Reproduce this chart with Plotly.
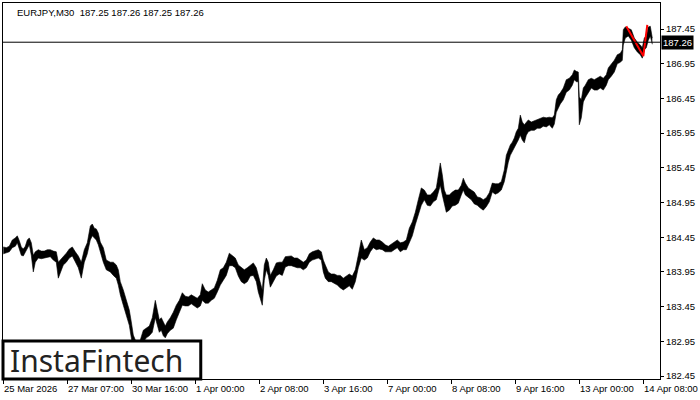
import plotly.graph_objects as go

# bar index (30-minute bars, sampled) with high / low prices
bar_idx = [0,3,6,9,12,14,16,18,20,22,24,26,28,30,32,35,38,41,44,47,50,53,55,57,60,63,66,69,72,75,78,81,84,87,89,91,93,95,97,100,103,107,110,113,115,117,120,123,126,128,130,134,137,140,143,146,149,152,154,156,158,160,162,164,167,170,173,176,179,182,185,188,191,194,197,199,202,205,208,211,214,217,220,223,226,229,232,235,238,241,244,247,250,253,255,257,259,261,263,265,267,270,273,276,279,282,285,288,291,294,297,300,303,306,309,312,315,318,320,322,325,328,331,334,337,340,343,346,349,352,355,358,361,364,367,370,373,376,379,382,385,388,391,394,397,400,403,406,409,412,415,418,421,424,427,430,433,435,437,439,441,443,446,449,452,455,458,460,462,465,468,471,474,477,480,483,486,489,492,495,498,501,503,505,507,509,511,513,515,517,519,521,523,525,528,531,534,537,540,543,546,549,551,553,555,557,560,563,566,569,571,573,575,576,578,580,582,585,588,591,594,597,600,603,605,608,611,614,617,619,620,622,625,628,631,634,637,639,641,643,645,647,649]
high = [184.31,184.30,184.32,184.41,184.44,184.47,184.40,184.31,184.28,184.32,184.41,184.44,184.37,184.19,184.24,184.27,184.25,184.25,184.27,184.27,184.25,184.24,184.09,184.12,184.17,184.22,184.28,184.31,184.24,184.18,184.09,184.27,184.37,184.61,184.64,184.58,184.57,184.51,184.38,184.30,184.12,184.09,184.09,184.05,183.98,183.81,183.69,183.54,183.40,183.23,183.04,182.90,182.97,183.11,183.14,183.17,183.29,183.54,183.40,183.26,183.29,183.23,183.17,183.23,183.29,183.37,183.47,183.54,183.65,183.60,183.59,183.62,183.60,183.57,183.62,183.78,183.69,183.66,183.69,183.72,183.83,183.98,184.01,184.09,184.22,184.19,184.15,184.05,184.01,183.98,184.01,184.05,184.08,184.01,183.90,183.76,183.69,184.05,184.15,184.09,183.90,183.98,184.08,184.09,184.09,184.17,184.18,184.18,184.15,184.15,184.12,184.09,184.12,184.21,184.24,184.25,184.27,184.24,184.12,184.05,183.95,183.92,183.92,183.90,183.90,183.86,183.89,183.92,183.89,183.98,184.19,184.41,184.27,184.30,184.38,184.44,184.41,184.41,184.38,184.34,184.32,184.35,184.38,184.41,184.37,184.38,184.41,184.58,184.67,184.81,184.99,185.16,185.13,185.06,185.06,185.10,185.16,185.35,185.52,185.35,185.13,185.06,185.06,185.10,185.13,185.13,185.20,185.30,185.23,185.16,185.13,185.10,185.03,185.02,184.99,185.02,185.09,185.23,185.22,185.22,185.25,185.42,185.63,185.71,185.78,185.82,185.88,185.97,186.02,186.21,186.11,186.07,186.11,186.14,186.11,186.13,186.15,186.17,186.18,186.17,186.18,186.17,186.21,186.43,186.50,186.53,186.60,186.72,186.74,186.79,186.86,186.84,186.83,186.47,186.43,186.60,186.64,186.72,186.74,186.72,186.74,186.77,186.74,186.79,186.89,186.95,187.00,187.08,187.10,187.15,187.44,187.48,187.46,187.44,187.32,187.26,187.22,187.18,187.32,187.35,187.48,187.49,187.32]
low = [184.21,184.22,184.24,184.30,184.32,184.37,184.27,184.19,184.18,184.24,184.30,184.34,184.19,183.95,184.09,184.15,184.14,184.15,184.15,184.17,184.12,184.09,183.86,183.95,184.05,184.09,184.15,184.18,184.09,184.01,183.86,184.09,184.21,184.41,184.47,184.44,184.41,184.34,184.24,184.09,183.98,183.95,183.90,183.86,183.76,183.62,183.47,183.33,183.18,183.00,182.83,182.71,182.80,182.94,183.00,183.03,183.08,183.29,183.18,183.08,183.11,183.03,183.00,183.06,183.11,183.14,183.26,183.37,183.47,183.46,183.46,183.49,183.46,183.43,183.46,183.54,183.50,183.50,183.54,183.57,183.66,183.76,183.83,183.90,184.04,184.04,184.01,183.89,183.81,183.78,183.81,183.89,183.90,183.81,183.66,183.57,183.47,183.83,183.98,183.90,183.73,183.81,183.89,183.92,183.90,184.02,184.04,184.04,184.02,184.01,184.01,183.98,184.01,184.09,184.12,184.14,184.15,184.12,183.95,183.86,183.81,183.81,183.79,183.76,183.72,183.69,183.72,183.75,183.70,183.81,184.01,184.15,184.12,184.15,184.24,184.30,184.27,184.28,184.27,184.24,184.24,184.24,184.27,184.30,184.24,184.27,184.27,184.38,184.47,184.63,184.77,184.91,184.99,184.91,184.90,184.96,184.99,185.10,185.20,185.06,184.91,184.81,184.84,184.90,184.91,184.94,185.06,185.13,185.06,185.02,184.99,184.93,184.91,184.87,184.84,184.89,184.96,185.10,185.07,185.09,185.13,185.25,185.42,185.53,185.63,185.68,185.74,185.78,185.85,185.92,185.85,185.81,185.92,185.97,185.99,185.99,186.02,186.02,186.05,186.04,186.07,186.02,186.08,186.25,186.31,186.37,186.43,186.54,186.57,186.64,186.72,186.69,186.69,186.07,186.17,186.40,186.46,186.54,186.60,186.57,186.57,186.60,186.57,186.64,186.72,186.77,186.83,186.95,186.97,187.00,187.22,187.32,187.35,187.29,187.18,187.12,187.08,187.03,187.15,187.18,187.29,187.35,187.23]

# pattern lines (red)
pattern_idx = [623, 640, 644]
pattern_price = [187.49, 187.06, 187.51]

current_price = 187.26
header_text = "EURJPY,M30  187.25 187.26 187.25 187.26"

x_tick_idx = [0, 64, 128, 192, 256, 320, 384, 448, 512, 576, 640]
x_tick_labels = ["25 Mar 2026", "27 Mar 07:00", "30 Mar 16:00", "1 Apr 00:00", "2 Apr 08:00",
                 "3 Apr 16:00", "7 Apr 00:00", "8 Apr 08:00", "9 Apr 16:00", "13 Apr 00:00", "14 Apr 08:00"]
y_tick_vals = [182.45, 182.95, 183.45, 183.95, 184.45, 184.95, 185.45, 185.95, 186.45, 186.95, 187.45]

FONT = "Liberation Sans, Arial, sans-serif"

fig = go.Figure()
fig.add_trace(go.Scatter(x=bar_idx, y=low, mode="lines", line=dict(color="black", width=0.6),
                         hoverinfo="skip", showlegend=False))
fig.add_trace(go.Scatter(x=bar_idx, y=high, mode="lines", line=dict(color="black", width=0.6),
                         fill="tonexty", fillcolor="black", hoverinfo="skip", showlegend=False))
fig.add_trace(go.Scatter(x=pattern_idx, y=pattern_price, mode="lines",
                         line=dict(color="#ff0000", width=2), showlegend=False))

fig.add_shape(type="line", xref="paper", x0=0, x1=1, yref="y", y0=current_price, y1=current_price,
              line=dict(color="black", width=1))

# logo box
fig.add_shape(type="rect", xref="paper", yref="paper", x0=0, x1=0.301, y0=0, y1=0.101,
              fillcolor="white", line=dict(color="black", width=3), layer="above")
fig.add_annotation(xref="paper", yref="paper", x=0.143, y=0.05, xanchor="center", yanchor="middle",
                   text="InstaFintech", showarrow=False,
                   font=dict(family="Noto Sans, sans-serif", size=30, color="#222222"))

fig.add_annotation(xref="paper", yref="paper", x=0, y=1, xanchor="left", yanchor="top",
                   xshift=12, yshift=-2, text=header_text, showarrow=False,
                   font=dict(family=FONT, size=9.5, color="black"))

fig.add_annotation(xref="paper", yref="y", x=1, y=current_price, xanchor="left", yanchor="middle",
                   xshift=1, text=str(current_price), showarrow=False, bgcolor="black",
                   borderpad=1, font=dict(family=FONT, size=9.5, color="white"))

for xi, lab in zip(x_tick_idx, x_tick_labels):
    fig.add_annotation(xref="x", yref="paper", x=xi, y=0, xanchor="left", yanchor="top",
                       xshift=-1, yshift=-2, text=lab, showarrow=False,
                       font=dict(family=FONT, size=9.5, color="black"))

fig.update_layout(
    width=700, height=400,
    margin=dict(l=3, r=40, t=3, b=21),
    paper_bgcolor="white", plot_bgcolor="white",
    xaxis=dict(range=[-0.3, 656.7], showgrid=False, zeroline=False, showline=True,
               linecolor="black", linewidth=1, mirror=True, ticks="outside", ticklen=4,
               tickcolor="black", tickvals=x_tick_idx, showticklabels=False),
    yaxis=dict(range=[182.407, 187.825], side="right", showgrid=False, zeroline=False,
               showline=True, linecolor="black", linewidth=1, mirror=True, ticks="outside",
               ticklen=3, tickcolor="black", tickvals=y_tick_vals, tickformat=".2f",
               tickfont=dict(family=FONT, size=9.5, color="black")),
)

fig.write_html("out.html", config={"displayModeBar": False},
               post_script="document.body.style.margin='0';")
